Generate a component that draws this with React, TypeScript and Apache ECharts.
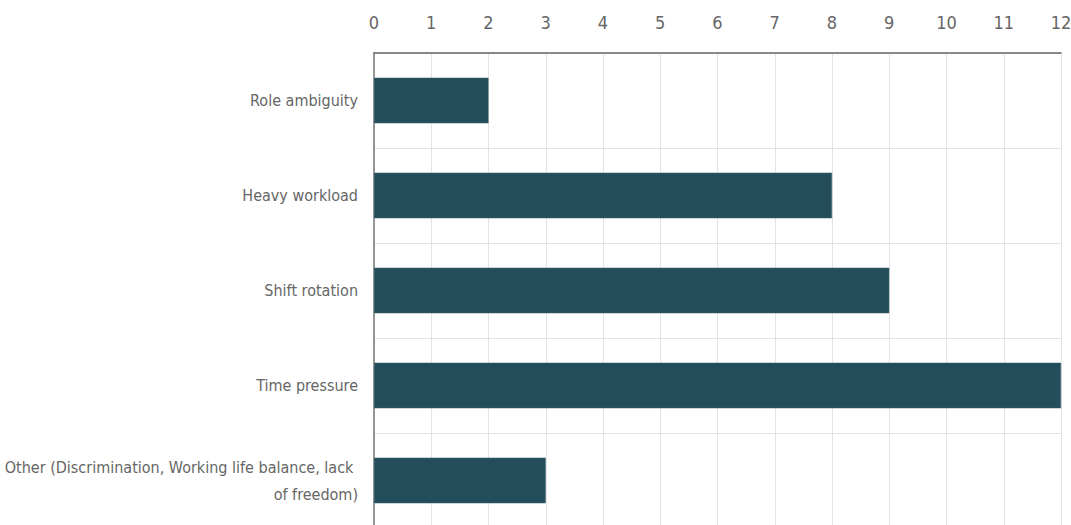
import React, { useEffect, useRef } from "react";
import * as echarts from "echarts";

const categories = [
  "Role ambiguity",
  "Heavy workload",
  "Shift rotation",
  "Time pressure",
  "Other (Discrimination, Working life balance, lack of freedom)",
];
const values = [2, 8, 9, 12, 3];
const xMin = 0;
const xMax = 12;
const xInterval = 1;

const FONT = "'Liberation Sans Narrow', 'Arial Narrow', 'DejaVu Sans Condensed', sans-serif";

export default function App() {
  const ref = useRef<HTMLDivElement>(null);
  useEffect(() => {
    if (!ref.current) return;
    const chart = echarts.init(ref.current, undefined, { renderer: "svg" });
    chart.setOption({
      animation: false,
      grid: {
        left: 374,
        right: 10,
        top: 53,
        bottom: -3,
        containLabel: false,
        outerBoundsMode: "none",
      },
      xAxis: {
        type: "value",
        position: "top",
        min: xMin,
        max: xMax,
        interval: xInterval,
        axisLine: { show: true, lineStyle: { color: "#666", width: 1.5 } },
        axisTick: { show: false },
        axisLabel: { color: "#666", fontFamily: FONT, fontSize: 18, margin: 22 },
        splitLine: { show: true, lineStyle: { color: "#e3e3e3", width: 1 } },
      },
      yAxis: {
        type: "category",
        inverse: true,
        data: categories,
        axisLine: { show: true, lineStyle: { color: "#777", width: 1.5 } },
        axisTick: { show: false },
        axisLabel: {
          color: "#666",
          fontFamily: FONT,
          fontSize: 16,
          margin: 16,
          width: 358,
          overflow: "break",
          align: "right",
          lineHeight: 27,
        },
        splitLine: { show: true, lineStyle: { color: "#e3e3e3", width: 1 } },
      },
      series: [
        {
          type: "bar",
          data: values,
          barWidth: "48%",
          itemStyle: { color: "#234d5a", borderColor: "#3f6470", borderWidth: 0.5 },
        },
      ],
    });
    return () => chart.dispose();
  }, []);
  return (
    <div
      ref={ref}
      style={{ position: "fixed", left: 0, top: 0, width: 1071, height: 525, background: "#fff" }}
    />
  );
}
